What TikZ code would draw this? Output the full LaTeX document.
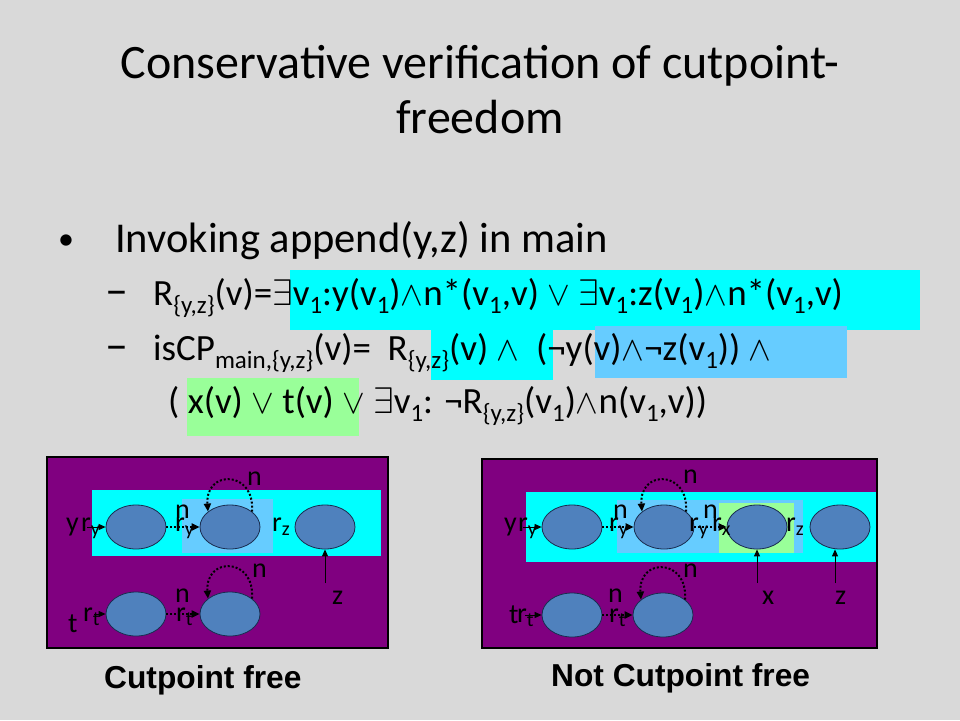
\RequirePackage{fix-cm}
\documentclass[tikz,border=0pt]{standalone}
\usepackage{fontspec}
\setmainfont{Carlito}
\newfontfamily\arialfont{Liberation Sans}
\usetikzlibrary{shapes.geometric,arrows.meta}
\definecolor{bg}{RGB}{217,217,217}
\definecolor{cyanhl}{RGB}{0,255,255}
\definecolor{bluehl}{RGB}{102,204,255}
\definecolor{greenhl}{RGB}{153,255,153}
\definecolor{purp}{RGB}{128,0,128}
\definecolor{ellfill}{RGB}{79,129,189}
\definecolor{elldraw}{RGB}{25,45,80}
\newcommand{\fsub}[1]{\raisebox{-8pt}{\fontsize{25}{25}\selectfont #1}}
\newcommand{\lsub}[1]{\raisebox{-4pt}{\fontsize{20}{20}\selectfont #1}}
\newcommand{\EX}{$\exists$}
\newcommand{\AND}{{\fontsize{34}{34}\selectfont$\wedge$}}
\newcommand{\OR}{{\fontsize{34}{34}\selectfont$\vee$}}
\newcommand{\NOT}{¬}
\begin{document}
\begin{tikzpicture}[x=1pt,y=-1pt,
  titlef/.style={font=\fontsize{48}{49}\selectfont, inner sep=0pt, anchor=base},
  fline/.style={font=\fontsize{37}{40}\selectfont, inner sep=0pt, anchor=base west},
  dashtxt/.style={font=\fontsize{46}{46}\selectfont, inner sep=0pt, anchor=base west},
  lbl/.style={font=\fontsize{28}{28}\selectfont, inner sep=0pt, anchor=base west},
  captxt/.style={font=\arialfont\bfseries\fontsize{31.7}{31.7}\selectfont, inner sep=0pt, anchor=base west},
  ellnode/.style={ellipse, draw=elldraw, fill=ellfill, minimum width=60pt, minimum height=44pt, inner sep=0pt, line width=0.8pt},
  ptr/.style={-{Triangle[length=7pt,width=6pt]}, line width=1pt},
  dptr/.style={-{Triangle[length=8pt,width=7pt]}, line width=2pt, dash pattern=on 2pt off 2pt},
  frm/.style={fill=purp, draw=black, line width=2pt}
]
\useasboundingbox (0,0) rectangle (960,720);
\fill[bg] (0,0) rectangle (960,720);

% title
\node[titlef] (t1) at (480,78) {Conservative verification of cutpoint-};
\node[titlef] (t2) at (480,133) {freedom};

% bullet line
\node[font=\fontsize{32}{32}\selectfont, inner sep=0pt] (bul) at (66,242) {•};
\node[font=\fontsize{42.5}{44}\selectfont, inner sep=0pt, anchor=base west] (b1) at (115,252) {Invoking append(y,z) in main};

% highlight boxes of formulas
\fill[cyanhl] (290,270) rectangle (920,330);
\fill[cyanhl] (431,328) rectangle (553,380);
\fill[bluehl] (595,326) rectangle (847,378);
\fill[greenhl] (187,378) rectangle (359,436);

\node[dashtxt] (d1) at (105,305) {–};
\node[dashtxt] (d2) at (105,360) {–};
\node[fline] (f1) at (153,305) {R\fsub{\{y,z\}}(v)=\EX v\fsub{1}:y(v\fsub{1})\AND n*(v\fsub{1},v) \OR\ \EX v\fsub{1}:z(v\fsub{1})\AND n*(v\fsub{1},v)};
\node[fline] (f2) at (153,360) {isCP\fsub{main,\{y,z\}}(v)=\ \ R\fsub{\{y,z\}}(v) \AND\ \ (\NOT y(v)\AND\NOT z(v\fsub{1})) \AND};
\node[fline] (f3) at (168,413) {( x(v) \OR\ t(v) \OR\ \EX v\fsub{1}: \NOT R\fsub{\{y,z\}}(v\fsub{1})\AND n(v\fsub{1},v))};

% ---------- left diagram ----------
\draw[frm] (47,457) rectangle (388,648);
\fill[cyanhl] (92,490) rectangle (381,556);
\fill[bluehl] (182,499) rectangle (273,553);

\node[ellnode] (L1) at (136,527) {};
\node[ellnode] (L2) at (230,527) {};
\node[ellnode] (L3) at (325,527) {};
\node[ellnode] (L4) at (136,614) {};
\node[ellnode] (L5) at (230,614) {};

\coordinate (Lya) at (87,527);
\coordinate (Lta) at (94,614);
\coordinate (Lza) at (325,583);
\draw[ptr] (Lya) -- (L1.west);
\draw[ptr] (Lta) -- (L4.west);
\draw[ptr] (Lza) -- (L3.south);
\draw[dptr] (L1.east) -- (L2.west);
\draw[dptr] (L4.east) -- (L5.west);
\draw[dptr] (L2.35) .. controls +(3,-42) and +(-3,-42) .. (L2.145);
\draw[dptr] (L5.35) .. controls +(3,-42) and +(-3,-42) .. (L5.145);

\node[lbl] (Ly) at (66,531) {y};
\node[lbl] (Lry) at (81,531) {r\lsub{y}};
\node[lbl] (Ln1) at (175,518) {n};
\node[lbl] (Lry2) at (175,531) {r\lsub{y}};
\node[lbl] (Ln2) at (247,485) {n};
\node[lbl] (Lrz) at (272,531) {r\lsub{z}};
\node[lbl] (Lz) at (332,604) {z};
\node[lbl] (Lt) at (68,632) {t};
\node[lbl] (Lrt) at (83,621) {r\lsub{t}};
\node[lbl] (Ln3) at (175,602) {n};
\node[lbl] (Lrt2) at (176,621) {r\lsub{t}};
\node[lbl] (Ln4) at (252,577) {n};

% ---------- right diagram ----------
\draw[frm] (482,459) rectangle (877,648);
\fill[cyanhl] (526,492) rectangle (876,562);
\fill[bluehl] (617,500) rectangle (803,553);
\fill[greenhl] (719,503) rectangle (794,553);

\node[ellnode] (R1) at (572,527) {};
\node[ellnode] (R2) at (664,527) {};
\node[ellnode] (R3) at (757,527) {};
\node[ellnode] (R4) at (840,527) {};
\node[ellnode] (R5) at (572,615) {};
\node[ellnode] (R6) at (663,615) {};

\coordinate (Rya) at (523,527);
\coordinate (Rta) at (525,615);
\coordinate (Rxa) at (757,583);
\coordinate (Rza) at (835,583);
\draw[ptr] (Rya) -- (R1.west);
\draw[ptr] (Rta) -- (R5.west);
\draw[ptr] (Rxa) -- (R3.south);
\draw[ptr] (Rza) -- (Rza |- R4.south);
\draw[dptr] (R1.east) -- (R2.west);
\draw[dptr] (R2.east) -- (R3.west);
\draw[dptr] (R5.east) -- (R6.west);
\draw[dptr] (R2.35) .. controls +(3,-42) and +(-3,-42) .. (R2.145);
\draw[dptr] (R6.35) .. controls +(3,-42) and +(-3,-42) .. (R6.145);

\node[lbl] (Ry) at (504,531) {y};
\node[lbl] (Rry) at (518,531) {r\lsub{y}};
\node[lbl] (Rn1) at (613,518) {n};
\node[lbl] (Rry2) at (609,531) {r\lsub{y}};
\node[lbl] (Rn2) at (683,483) {n};
\node[lbl] (Rry3) at (689,531) {r\lsub{y}};
\node[lbl] (Rn3) at (703,518) {n};
\node[lbl] (Rrx) at (712,531) {r\lsub{x}};
\node[lbl] (Rrz) at (786,531) {r\lsub{z}};
\node[lbl] (Rx) at (762,604) {x};
\node[lbl] (Rz) at (835,604) {z};
\node[lbl] (Rt) at (509,623) {t};
\node[lbl] (Rrt) at (517,622) {r\lsub{t}};
\node[lbl] (Rn4) at (608,602) {n};
\node[lbl] (Rrt2) at (609,622) {r\lsub{t}};
\node[lbl] (Rn5) at (683,577) {n};

% captions
\node[captxt] (c1) at (104,688) {Cutpoint free};
\node[captxt] (c2) at (551,686) {Not Cutpoint free};
\end{tikzpicture}
\end{document}
